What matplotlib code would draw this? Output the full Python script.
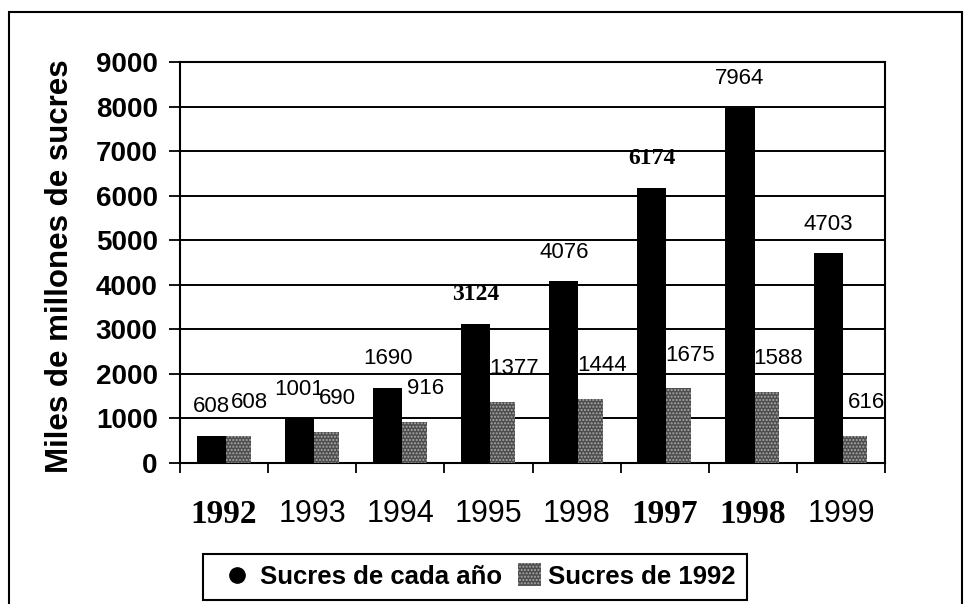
import numpy as np
import matplotlib.pyplot as plt
from matplotlib.lines import Line2D
from matplotlib.patches import Patch, Rectangle
from matplotlib.legend_handler import HandlerLine2D, HandlerPatch

# Data (miles de millones de sucres)
years = ['1992', '1993', '1994', '1995', '1998', '1997', '1998', '1999']
sucres_cada_ano = [608, 1001, 1690, 3124, 4076, 6174, 7964, 4703]
sucres_1992 = [608, 690, 916, 1377, 1444, 1675, 1588, 616]
serif_years = [0, 5, 6]       # tick labels printed in bold serif
serif_values = [3, 5]         # black-bar labels printed in bold serif

plt.rcParams['font.family'] = 'Liberation Sans'
plt.rcParams['hatch.linewidth'] = 1.0

W, H = 966, 604
GREY = '#4d4d4d'
SPECK = '#a8a8a8'

fig = plt.figure(figsize=(W / 100, H / 100), dpi=100)
ax = fig.add_axes([180 / W, 1 - 463 / H, (885 - 180) / W, (463 - 62) / H])

x = np.arange(len(years))
ax.bar(x - 0.31, sucres_cada_ano, width=0.33, align='edge',
       color='black', zorder=3)
ax.bar(x + 0.02, sucres_1992, width=0.28, align='edge', facecolor=GREY,
       hatch='.....', edgecolor=SPECK, linewidth=0, zorder=3)

# value labels sit under the bars, as in the scanned original
for i, v in enumerate(sucres_cada_ano):
    if i in serif_values:
        kw = dict(family='Liberation Serif', weight='bold', fontsize=17)
    else:
        kw = dict(fontsize=16)
    ax.annotate(str(v), (i - 0.145, v), xytext=(0, 21), textcoords='offset points',
                ha='center', va='center', zorder=2, **kw)
for i, v in enumerate(sucres_1992):
    ax.annotate(str(v), (i + 0.16, v), xytext=(8, 24), textcoords='offset points',
                ha='center', va='center', fontsize=16, zorder=2)

ax.set_xlim(-0.5, len(years) - 0.5)
ax.set_ylim(0, 9000)
ax.set_yticks(np.arange(0, 9001, 1000))
ax.tick_params(axis='y', direction='out', length=8, width=1.3, pad=8)
for lab in ax.get_yticklabels():
    lab.set_fontsize(20)
    lab.set_fontweight('bold')
ax.set_axisbelow(True)
ax.yaxis.grid(True, color='black', linewidth=1.4)

ax.set_xticks(np.arange(-0.5, len(years)), labels=[])
ax.set_xticks(x, labels=years, minor=True)
ax.tick_params(axis='x', which='major', direction='out', length=7, width=1.3)
ax.tick_params(axis='x', which='minor', length=0, labelsize=22, pad=26)
for i, lab in enumerate(ax.get_xticklabels(minor=True)):
    if i in serif_years:
        lab.set_fontfamily('Liberation Serif')
        lab.set_fontweight('bold')
        lab.set_fontsize(24)

for s in ax.spines.values():
    s.set_color('black')
    s.set_linewidth(1.5)

fig.text(60 / W, 1 - 266 / H, 'Miles de millones de sucres', rotation=90,
         ha='center', va='center', fontsize=22.5, fontweight='bold')


def square_patch(legend, orig_handle, xdescent, ydescent, width, height, fontsize):
    s = 0.9 * fontsize
    return Rectangle((width - s - xdescent, (height - s) / 2 - ydescent), s, s)


dot = Line2D([], [], marker='o', color='black', linestyle='none', markersize=11)
box = Patch(facecolor=GREY, hatch='.....', edgecolor=SPECK, linewidth=0)
leg = fig.legend([dot, box], ['Sucres de cada año', 'Sucres de 1992'], ncol=2,
                 loc='upper left', bbox_to_anchor=(203 / W, 1 - 554 / H),
                 prop={'weight': 'bold', 'size': 18.5}, fancybox=False,
                 edgecolor='black', framealpha=1, handlelength=1.5,
                 handletextpad=0.3, columnspacing=0.0, borderpad=0.42,
                 borderaxespad=0,
                 handler_map={dot: HandlerLine2D(xpad=0.33),
                              box: HandlerPatch(patch_func=square_patch)})
leg.get_frame().set_linewidth(1.5)

# outer border of the figure
fig.add_artist(Rectangle((9 / W, -0.02), (962 - 9) / W, 1.02 - 12 / H,
                         transform=fig.transFigure, fill=False,
                         edgecolor='black', linewidth=1.5))

fig.savefig('out.png', dpi=100)
